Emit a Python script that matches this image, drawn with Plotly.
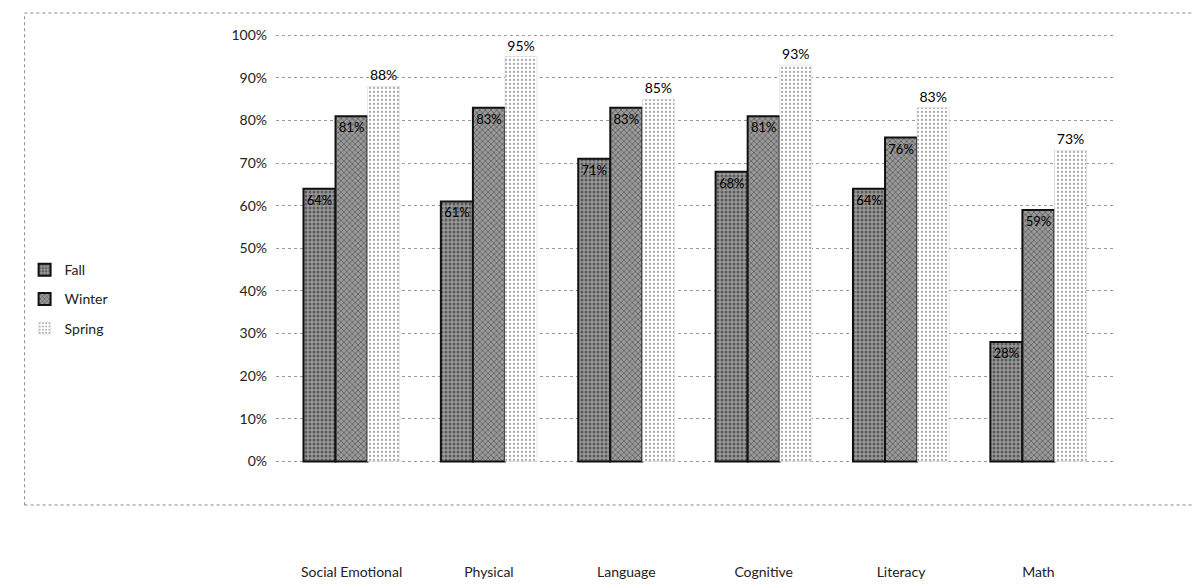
import plotly.graph_objects as go

categories = ["Social Emotional", "Physical", "Language", "Cognitive", "Literacy", "Math"]
fall = [64, 61, 71, 68, 64, 28]
winter = [81, 83, 83, 81, 76, 59]
spring = [88, 95, 85, 93, 83, 73]
y_ticks = [0, 10, 20, 30, 40, 50, 60, 70, 80, 90, 100]
y_tick_text = [f"{v}%" for v in y_ticks]

FONT = "Lato, Open Sans, sans-serif"

fig = go.Figure()
fig.add_trace(go.Bar(
    name="Fall", x=categories, y=fall, legendgroup="fall",
    text=[f"{v}%" for v in fall], textposition="inside", insidetextanchor="end",
    textangle=0, constraintext="none",
    textfont=dict(color="black", size=13, family=FONT),
    marker=dict(color="#8a8a8a", line=dict(color="#111111", width=2),
                pattern=dict(shape=".", fgcolor="#1a1a1a", bgcolor="#9a9a9a", size=4, solidity=0.45)),
))
fig.add_trace(go.Bar(
    name="Winter", x=categories, y=winter, legendgroup="winter",
    text=[f"{v}%" for v in winter], textposition="inside", insidetextanchor="end",
    textangle=0, constraintext="none",
    textfont=dict(color="black", size=13, family=FONT),
    marker=dict(color="#8a8a8a", line=dict(color="#111111", width=2),
                pattern=dict(shape="x", fgcolor="#1a1a1a", bgcolor="#9a9a9a", size=4, solidity=0.35)),
))
fig.add_trace(go.Bar(
    name="Spring", x=categories, y=spring, legendgroup="spring",
    text=[f"{v}%" for v in spring], textposition="outside", textangle=0,
    textfont=dict(color="black", size=14, family=FONT),
    cliponaxis=False,
    marker=dict(color="white", line=dict(color="#d0d0d0", width=0.5),
                pattern=dict(shape=".", fgcolor="#555555", bgcolor="white", size=4, solidity=0.25)),
))

fig.update_layout(
    width=1202, height=588,
    margin=dict(l=268, r=96, t=6, b=92, autoexpand=False),
    paper_bgcolor="white", plot_bgcolor="white",
    barmode="group", bargap=0.3, bargroupgap=0,
    font=dict(family=FONT, size=13, color="#222222"),
    showlegend=True,
    legend=dict(x=-0.3, y=0.51, xanchor="left", yanchor="top",
                font=dict(size=14, family=FONT), bgcolor="rgba(0,0,0,0)",
                tracegroupgap=8),
    xaxis=dict(range=[-0.55, 5.55], showgrid=False, showline=False, ticks="",
               ticklabelstandoff=58, tickfont=dict(size=14, family=FONT)),
    yaxis=dict(range=[-10, 105], tickvals=y_ticks, ticktext=y_tick_text,
               showgrid=True, gridcolor="#9a9a9a", griddash="dot", gridwidth=1,
               zeroline=False, showline=False, tickfont=dict(size=14, family=FONT),
               ticklabelstandoff=8),
    shapes=[dict(type="rect", xref="paper", yref="paper",
                 x0=-0.3, x1=1.105, y0=-0.002, y1=1.002,
                 line=dict(color="#8a8a8a", width=1, dash="dot"))],
)

fig.write_html("out.html")
